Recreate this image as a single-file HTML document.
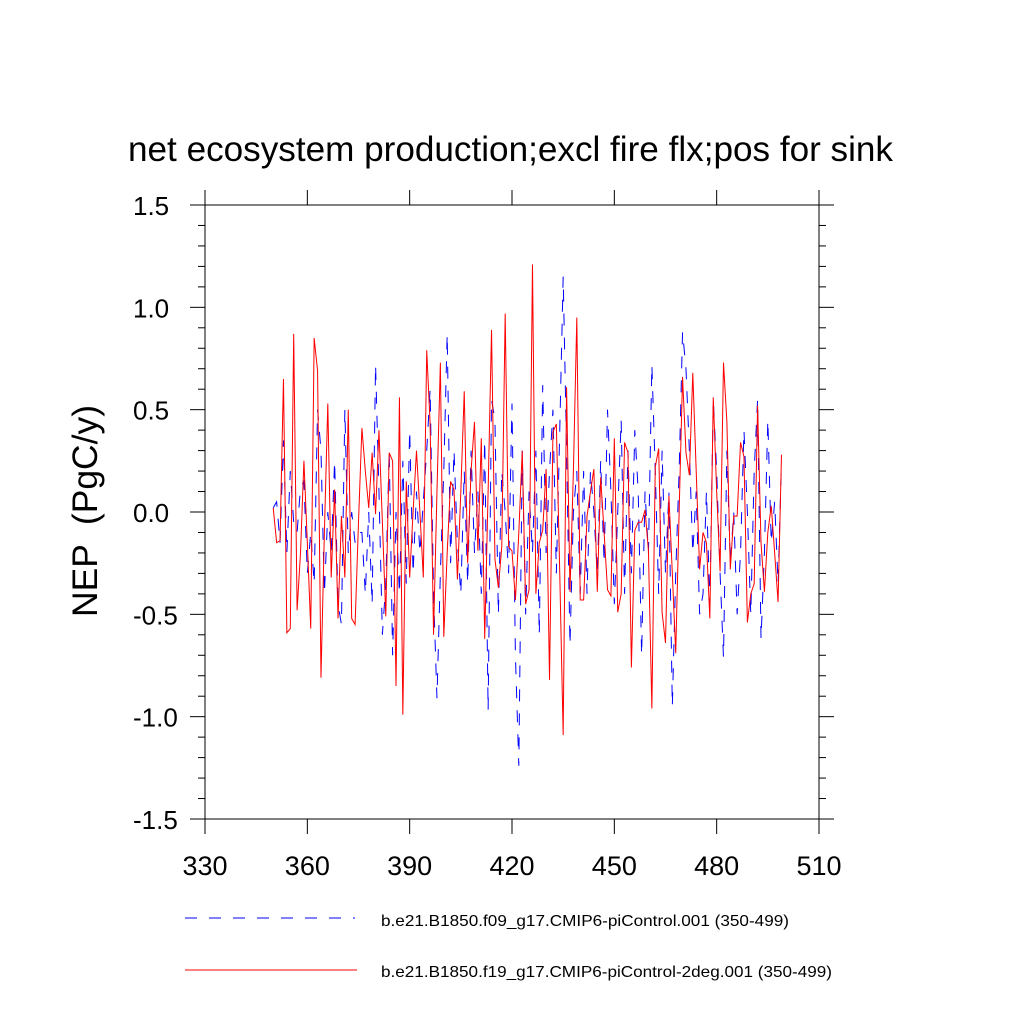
<!DOCTYPE html>
<html><head><meta charset="utf-8"><style>
html,body{margin:0;padding:0;background:#fff;}
svg{display:block;font-family:"Liberation Sans",sans-serif;}
</style></head><body>
<svg id="chart" width="1024" height="1024" viewBox="0 0 1024 1024">
<text x="128" y="161" font-size="35" textLength="765" lengthAdjust="spacingAndGlyphs">net ecosystem production;excl fire flx;pos for sink</text>
<text transform="translate(97,617) rotate(-90)" font-size="35" xml:space="preserve" textLength="212" lengthAdjust="spacingAndGlyphs">NEP  (PgC/y)</text>
<g id="axes"></g>
<g id="series"></g>
<g>
<line x1="185" y1="918" x2="355" y2="918" stroke="#00f" stroke-width="1" stroke-dasharray="12,12"/>
<text x="381" y="926" font-size="16" textLength="408" lengthAdjust="spacingAndGlyphs">b.e21.B1850.f09_g17.CMIP6-piControl.001 (350-499)</text>
<line x1="185" y1="970" x2="357" y2="970" stroke="#f00" stroke-width="1"/>
<text x="381" y="977" font-size="16" textLength="451" lengthAdjust="spacingAndGlyphs">b.e21.B1850.f19_g17.CMIP6-piControl-2deg.001 (350-499)</text>
</g>
</svg>
<script>
const startYear = 350;
const xTicks = [330,360,390,420,450,480,510];
const yTicks = [-1.5,-1.0,-0.5,0.0,0.5,1.0,1.5];
const yTickLabels = ["-1.5","-1.0","-0.5","0.0","0.5","1.0","1.5"];
const blueValues = [0.02,0.05,-0.15,0.35,-0.2,0.2,-0.05,-0.1,0.12,0.15,-0.3,-0.1,-0.35,0.5,0.3,-0.4,0.0,-0.2,0.25,-0.45,-0.55,0.5,-0.2,0.0,-0.15,-0.1,-0.1,-0.4,0.0,-0.45,0.72,0.1,-0.6,-0.35,0.3,-0.7,0.0,-0.4,0.25,-0.35,0.4,-0.3,0.1,-0.2,0.05,0.3,0.6,-0.4,-0.91,-0.3,0.2,0.87,-0.25,0.3,-0.15,-0.4,0.2,-0.35,0.3,-0.2,0.1,-0.4,0.35,-0.97,0.55,0.45,-0.5,0.2,0.0,-0.3,0.53,-0.7,-1.24,0.3,-0.5,0.1,-0.2,0.3,-0.6,0.62,-0.2,0.2,0.5,-0.3,0.4,1.15,0.3,-0.65,0.0,0.2,-0.4,0.2,-0.4,0.2,0.0,-0.3,0.25,-0.25,0.5,0.1,-0.45,0.0,0.45,-0.4,0.3,-0.3,0.4,0.1,-0.7,0.1,-0.2,0.72,0.2,-0.4,0.3,-0.3,0.1,-0.95,-0.3,0.2,0.88,0.7,0.3,-0.2,0.1,-0.5,-0.4,0.1,-0.45,0.55,0.2,-0.3,-0.71,0.3,-0.25,0.0,-0.5,-0.2,0.4,0.0,-0.5,0.2,0.55,-0.62,-0.2,0.45,-0.15,0.05,-0.35,0.25];
const redValues = [0.02,-0.15,-0.14,0.65,-0.59,-0.57,0.87,-0.48,-0.2,0.25,-0.15,-0.57,0.85,0.69,-0.81,-0.1,0.53,-0.32,0.11,-0.52,-0.02,-0.32,0.5,-0.52,-0.55,-0.05,0.41,0.2,0.02,0.29,-0.01,0.4,-0.05,-0.51,0.29,0.25,-0.85,0.56,-0.99,0.15,-0.32,0.0,0.30,0.0,-0.32,0.79,0.43,-0.60,0.1,0.73,-0.61,-0.2,0.15,0.11,-0.33,0.1,0.59,-0.25,0.2,0.44,-0.19,0.36,-0.62,0.1,0.89,-0.23,-0.37,-0.17,0.97,-0.17,-0.19,-0.43,-0.1,0.30,-0.45,-0.38,1.21,-0.40,-0.15,-0.09,0.21,-0.82,0.39,0.43,-0.3,-1.09,0.61,-0.39,0.2,0.95,-0.43,-0.43,-0.02,0.1,0.21,-0.39,0.17,-0.1,-0.38,-0.41,0.36,-0.49,-0.40,0.34,0.29,-0.76,-0.09,-0.05,-0.05,0.01,-0.19,-0.96,0.22,0.31,-0.49,-0.64,0.08,-0.3,-0.69,0.0,0.66,0.29,0.18,0.68,0.2,-0.28,-0.10,-0.15,-0.52,0.56,0.1,-0.29,0.73,0.44,-0.28,-0.02,-0.02,0.34,0.27,-0.54,-0.40,-0.35,0.52,-0.15,-0.39,-0.1,0.03,-0.2,-0.44,0.28];

const L=205,R=819,T=205,B=819;
const xMin=330,xMax=510,yMin=-1.5,yMax=1.5;
function xs(v){return L+(v-xMin)/(xMax-xMin)*(R-L);}
function ys(v){return B-(v-yMin)/(yMax-yMin)*(B-T);}
const NS="http://www.w3.org/2000/svg";
const axes=document.getElementById('axes');
function mk(tag,attrs,parent){const e=document.createElementNS(NS,tag);for(const k in attrs)e.setAttribute(k,attrs[k]);parent.appendChild(e);return e;}

const frame=mk('rect',{x:L,y:T,width:R-L,height:B-T,fill:'none',stroke:'#000','stroke-width':1},axes);



xTicks.forEach(t=>{
  const x=xs(t);
  const a=mk('line',{x1:x,y1:B,x2:x,y2:B+15,stroke:'#000'},axes);
  
  
  const b=mk('line',{x1:x,y1:T,x2:x,y2:T-15,stroke:'#000'},axes);
  
  
  const lb=mk('text',{x:x,y:875,'font-size':27,'text-anchor':'middle'},axes);
  lb.textContent=String(t);
  
  
});
for(let i=0;i<=30;i++){
  const v=yMin+i*0.1;const y=ys(v);
  const major=(i%5===0);const len=major?15:7;
  const a=mk('line',{x1:L,y1:y,x2:L-len,y2:y,stroke:'#000'},axes);
  
  
  const b=mk('line',{x1:R,y1:y,x2:R+len,y2:y,stroke:'#000'},axes);
  
  
}
yTicks.forEach((t,i)=>{
  const lb=mk('text',{x:133,y:ys(t)+10,'font-size':26,'text-anchor':'start'},axes);
  lb.textContent=yTickLabels[i];
  
  
});
const sg=document.getElementById('series');
function pts(arr){return arr.map((v,i)=>xs(startYear+i).toFixed(2)+','+ys(v).toFixed(2)).join(' ');}
const bl=mk('polyline',{points:pts(blueValues),fill:'none',stroke:'#00f','stroke-width':1,'stroke-dasharray':'12,12'},sg);


const rl=mk('polyline',{points:pts(redValues),fill:'none',stroke:'#f00','stroke-width':1},sg);


</script>
</body></html>
